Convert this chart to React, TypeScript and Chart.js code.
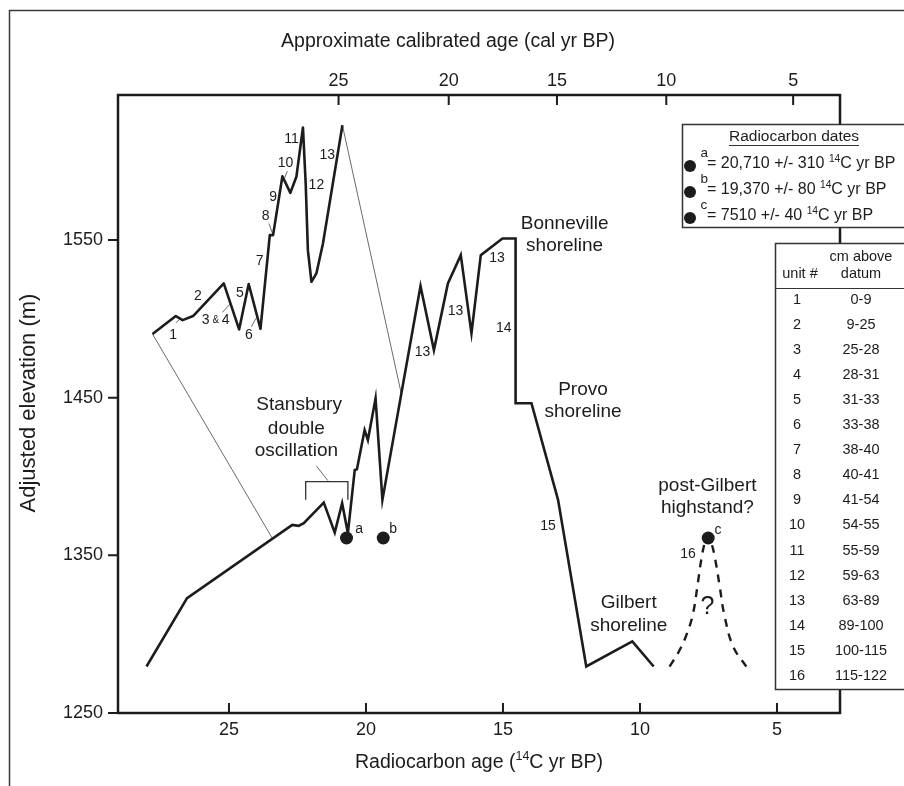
import React, { useEffect, useRef } from "react";
import { Chart, registerables } from "chart.js";

Chart.register(...registerables);

const FONT = '"Liberation Sans", Arial, Helvetica, sans-serif';
const INK = "#1c1c1c";

// ---- axes ----
const xTicks = [25, 20, 15, 10, 5];
const yTicks = [1250, 1350, 1450, 1550];
const calTickLabels = ["25", "20", "15", "10", "5"];
const calTickAt14C = [21.0, 16.98, 13.03, 9.04, 4.41];

// ---- lake-level curve (14C ka BP, m) ----
const mainAge = [28.01, 26.53, 22.69, 22.46, 22.27, 21.54, 21.14, 20.87, 20.66, 20.41, 20.33, 20.05, 19.93, 19.65, 19.4, 18.01, 17.52, 17.01, 16.54, 16.15, 15.81, 15.02, 14.54, 14.54, 13.96, 12.99, 11.96, 10.28, 9.5];
const mainElev = [1279.5, 1322.9, 1369.3, 1368.7, 1370.4, 1383.5, 1364.4, 1383.1, 1364.1, 1404.2, 1404.6, 1429.5, 1423.2, 1449.6, 1385.2, 1520.8, 1480.2, 1522.5, 1540.4, 1490.8, 1540.4, 1551.0, 1551.0, 1446.5, 1446.5, 1385.2, 1279.5, 1295.4, 1279.5];

// ---- expanded inset (units 1-13) ----
const insetAge = [27.79, 26.94, 26.69, 26.31, 25.19, 24.63, 24.28, 23.85, 23.51, 23.39, 23.05, 22.76, 22.54, 22.3, 22.2, 22.12, 21.99, 21.81, 21.57, 20.86];
const insetElev = [1490.4, 1501.8, 1499.2, 1501.8, 1522.5, 1493.3, 1522.1, 1493.7, 1553.1, 1553.1, 1590.5, 1579.9, 1590.1, 1621.4, 1585.9, 1543.6, 1523.5, 1528.8, 1547.8, 1622.8];

// ---- post-Gilbert highstand (dashed) ----
const dashAge = [8.92, 8.58, 8.28, 8.06, 7.88, 7.76, 7.64, 7.52, 7.39, 7.25, 7.09, 6.91, 6.6, 6.12];
const dashElev = [1279.5, 1289.0, 1300.7, 1313.4, 1333.4, 1347.6, 1357.7, 1363.0, 1357.7, 1347.1, 1330.2, 1311.2, 1292.2, 1279.5];

// ---- connector lines inset -> curve ----
const connA = [[27.79, 1490.4], [23.41, 1360.6]];
const connB = [[20.86, 1622.8], [18.71, 1452.5]];

// ---- Stansbury bracket ----
const bracketAge = [22.2, 22.2, 20.66, 20.66];
const bracketElev = [1385.2, 1396.8, 1396.8, 1385.2];
const leaderLines = [
  [[26.93, 1497.5], [26.77, 1500.3]],
  [[25.24, 1504.1], [24.97, 1509.2]],
  [[24.18, 1495.0], [24.02, 1500.3]],
  [[23.54, 1560.5], [23.41, 1554.2]],
  [[22.87, 1593.7], [22.97, 1589.4]],
  [[21.81, 1406.7], [21.39, 1397.4]],
];

// ---- radiocarbon dates ----
const dateLetters = ["a", "b", "c"];
const dateAges = [20.71, 19.37, 7.51];
const dateElev = [1361, 1361, 1361];
const dateValues = ["20,710 +/- 310", "19,370 +/- 80", "7510 +/- 40"];

// ---- unit table ----
const unitNumbers = ["1", "2", "3", "4", "5", "6", "7", "8", "9", "10", "11", "12", "13", "14", "15", "16"];
const unitCm = ["0-9", "9-25", "25-28", "28-31", "31-33", "33-38", "38-40", "40-41", "41-54", "54-55", "55-59", "59-63", "63-89", "89-100", "100-115", "115-122"];

// ---- annotation text anchors (data coordinates) ----
const bigLabels = [
  { t: "Stansbury", x: 22.44, y: 1445.4 },
  { t: "double", x: 22.54, y: 1430.6 },
  { t: "oscillation", x: 22.54, y: 1416.4 },
  { t: "Bonneville", x: 12.75, y: 1560.5 },
  { t: "shoreline", x: 12.75, y: 1546.1 },
  { t: "Provo", x: 12.08, y: 1455.3 },
  { t: "shoreline", x: 12.08, y: 1441.1 },
  { t: "Gilbert", x: 10.41, y: 1319.7 },
  { t: "shoreline", x: 10.41, y: 1305.3 },
  { t: "post-Gilbert", x: 7.54, y: 1394.0 },
  { t: "highstand?", x: 7.54, y: 1379.9 },
];
const unitLabels = [
  { t: "1", x: 27.04, y: 1489.7 },
  { t: "2", x: 26.13, y: 1514.5 },
  { t: "3", x: 25.85, y: 1499.2 },
  { t: "4", x: 25.12, y: 1499.2 },
  { t: "5", x: 24.6, y: 1516.2 },
  { t: "6", x: 24.27, y: 1489.7 },
  { t: "7", x: 23.88, y: 1536.6 },
  { t: "8", x: 23.66, y: 1565.2 },
  { t: "9", x: 23.39, y: 1577.0 },
  { t: "10", x: 22.94, y: 1598.5 },
  { t: "11", x: 22.72, y: 1613.8 },
  { t: "12", x: 21.81, y: 1584.8 },
  { t: "13", x: 21.41, y: 1603.8 },
  { t: "13", x: 17.94, y: 1479.2 },
  { t: "13", x: 16.73, y: 1505.1 },
  { t: "13", x: 15.22, y: 1538.7 },
  { t: "14", x: 14.97, y: 1494.0 },
  { t: "15", x: 13.36, y: 1368.7 },
  { t: "16", x: 8.25, y: 1351.0 },
  { t: "a", x: 20.25, y: 1366.6 },
  { t: "b", x: 19.01, y: 1366.6 },
  { t: "c", x: 7.15, y: 1366.2 },
];
const ampersand = { t: "&", x: 25.48, y: 1499.0 };
const questionMark = { t: "?", x: 7.54, y: 1317.2 };

const zip = (a: number[], b: number[]) => a.map((v, i) => ({ x: v, y: b[i] }));
const pairs = (p: number[][]) => p.map(([x, y]) => ({ x, y }));

function richText(ctx: CanvasRenderingContext2D, parts: [string, boolean][], x: number, y: number, size: number, align: "left" | "center") {
  const sup = size * 0.64;
  const widths = parts.map(([t, s]) => {
    ctx.font = `${s ? sup : size}px ${FONT}`;
    return ctx.measureText(t).width;
  });
  const total = widths.reduce((a, b) => a + b, 0);
  let cx = align === "center" ? x - total / 2 : x;
  ctx.textAlign = "left";
  ctx.textBaseline = "middle";
  parts.forEach(([t, s], i) => {
    ctx.font = `${s ? sup : size}px ${FONT}`;
    ctx.fillText(t, cx, s ? y - size * 0.32 : y);
    cx += widths[i];
  });
}

const decor = {
  id: "decor",
  afterDraw(chart: any) {
    const ctx: CanvasRenderingContext2D = chart.ctx;
    const xs = chart.scales.x;
    const ys = chart.scales.y;
    const X = (v: number) => xs.getPixelForValue(v);
    const Y = (v: number) => ys.getPixelForValue(v);
    const { left, right, top, bottom } = chart.chartArea;
    ctx.save();

    // outer frame
    ctx.strokeStyle = "#3a3a3a";
    ctx.lineWidth = 1.5;
    ctx.beginPath();
    ctx.moveTo(9.5, 790);
    ctx.lineTo(9.5, 10.5);
    ctx.lineTo(910, 10.5);
    ctx.stroke();

    // plot frame
    ctx.strokeStyle = INK;
    ctx.lineWidth = 2.5;
    ctx.lineCap = "square";
    ctx.beginPath();
    ctx.rect(left, top, right - left, bottom - top);
    ctx.stroke();
    ctx.lineCap = "butt";
    ctx.lineWidth = 2;
    ctx.beginPath();
    xTicks.forEach((v) => {
      ctx.moveTo(X(v), bottom);
      ctx.lineTo(X(v), bottom - 10);
    });
    calTickAt14C.forEach((v) => {
      ctx.moveTo(X(v), top);
      ctx.lineTo(X(v), top + 10);
    });
    yTicks.forEach((v) => {
      ctx.moveTo(left - 10, Y(v));
      ctx.lineTo(left, Y(v));
    });
    ctx.stroke();

    // titles
    ctx.fillStyle = INK;
    ctx.textAlign = "center";
    ctx.textBaseline = "middle";
    ctx.font = `19.5px ${FONT}`;
    ctx.fillText("Approximate calibrated age (cal yr BP)", 448, 42);
    richText(ctx, [["Radiocarbon age (", false], ["14", true], ["C yr BP)", false]], (left + right) / 2, 763, 19.5, "center");
    ctx.save();
    ctx.translate(29, 403);
    ctx.rotate(-Math.PI / 2);
    ctx.textAlign = "center";
    ctx.font = `22px ${FONT}`;
    ctx.fillText("Adjusted elevation (m)", 0, 0);
    ctx.restore();

    // annotations
    ctx.textAlign = "center";
    ctx.textBaseline = "middle";
    ctx.font = `19px ${FONT}`;
    bigLabels.forEach((l) => ctx.fillText(l.t, X(l.x), Y(l.y)));
    ctx.font = `14px ${FONT}`;
    unitLabels.forEach((l) => ctx.fillText(l.t, X(l.x), Y(l.y)));
    ctx.font = `10px ${FONT}`;
    ctx.fillText(ampersand.t, X(ampersand.x), Y(ampersand.y));
    ctx.font = `25px ${FONT}`;
    ctx.fillText(questionMark.t, X(questionMark.x), Y(questionMark.y));

    // radiocarbon dates box
    ctx.fillStyle = "#fff";
    ctx.fillRect(682, 124, 240, 103);
    ctx.strokeStyle = "#333";
    ctx.lineWidth = 1.5;
    ctx.strokeRect(682.5, 124.5, 240, 103);
    ctx.fillStyle = INK;
    ctx.font = `15.5px ${FONT}`;
    ctx.textAlign = "center";
    const ttl = "Radiocarbon dates";
    ctx.fillText(ttl, 794, 137);
    const tw = ctx.measureText(ttl).width;
    ctx.lineWidth = 1;
    ctx.beginPath();
    ctx.moveTo(794 - tw / 2, 145.5);
    ctx.lineTo(794 + tw / 2, 145.5);
    ctx.stroke();
    dateLetters.forEach((letter, i) => {
      const ry = 164 + 26 * i;
      ctx.beginPath();
      ctx.arc(690, ry + 2, 6, 0, Math.PI * 2);
      ctx.fill();
      ctx.font = `13.5px ${FONT}`;
      ctx.textAlign = "left";
      ctx.fillText(letter, 700.5, ry - 10.5);
      richText(ctx, [[`= ${dateValues[i]} `, false], ["14", true], ["C yr BP", false]], 707, ry, 16, "left");
    });

    // unit table
    ctx.fillStyle = "#fff";
    ctx.fillRect(775, 243, 140, 446);
    ctx.strokeStyle = "#333";
    ctx.lineWidth = 1.5;
    ctx.strokeRect(775.5, 243.5, 140, 446);
    ctx.lineWidth = 1;
    ctx.beginPath();
    ctx.moveTo(775, 288.5);
    ctx.lineTo(904, 288.5);
    ctx.stroke();
    ctx.fillStyle = INK;
    ctx.font = `14.5px ${FONT}`;
    ctx.textAlign = "center";
    ctx.textBaseline = "middle";
    ctx.fillText("cm above", 861, 257);
    ctx.fillText("datum", 861, 274);
    ctx.fillText("unit #", 800, 274);
    unitNumbers.forEach((u, i) => {
      const ry = 299.5 + i * 25.1;
      ctx.fillText(u, 797, ry);
      ctx.fillText(unitCm[i], 861, ry);
    });
    ctx.restore();
  },
};

export default function App() {
  const ref = useRef<HTMLCanvasElement>(null);
  useEffect(() => {
    document.body.style.margin = "0";
    const thin = { borderColor: "#444", borderWidth: 0.8, pointRadius: 0, fill: false };
    const chart = new Chart(ref.current as HTMLCanvasElement, {
      type: "line",
      data: {
        datasets: [
          {
            data: zip(dateAges, dateElev),
            showLine: false,
            pointRadius: 6.5,
            pointBackgroundColor: INK,
            pointBorderWidth: 0,
          } as any,
          { data: zip(mainAge, mainElev), borderColor: INK, borderWidth: 2.6, pointRadius: 0, tension: 0, borderJoinStyle: "miter" } as any,
          { data: zip(insetAge, insetElev), borderColor: INK, borderWidth: 2.6, pointRadius: 0, tension: 0, borderJoinStyle: "round" } as any,
          { data: zip(dashAge, dashElev), borderColor: INK, borderWidth: 2.4, borderDash: [8, 7], pointRadius: 0, tension: 0.4 } as any,
          { data: pairs(connA), ...thin } as any,
          { data: pairs(connB), ...thin } as any,
          { data: zip(bracketAge, bracketElev), borderColor: "#333", borderWidth: 1.3, pointRadius: 0 } as any,
          ...leaderLines.map((l) => ({ data: pairs(l), ...thin } as any)),
        ],
      },
      options: {
        animation: false,
        responsive: false,
        events: [],
        layout: { padding: { left: 0, top: 0, right: 64, bottom: 0 } },
        plugins: { legend: { display: false }, tooltip: { enabled: false } },
        scales: {
          x: {
            type: "linear",
            position: "bottom",
            reverse: true,
            min: 2.7,
            max: 29.05,
            grid: { display: false, drawTicks: false },
            border: { display: false },
            ticks: { font: { family: FONT, size: 18 }, color: INK, padding: 6, maxRotation: 0, autoSkip: false, callback: (v: any) => String(v) },
            afterBuildTicks: (s: any) => {
              s.ticks = xTicks.map((v) => ({ value: v }));
            },
            afterFit: (s: any) => {
              s.height = 73;
            },
          },
          xTop: {
            type: "linear",
            position: "top",
            reverse: true,
            min: 2.7,
            max: 29.05,
            grid: { display: false, drawTicks: false },
            border: { display: false },
            ticks: { font: { family: FONT, size: 18 }, color: INK, padding: 3, maxRotation: 0, autoSkip: false, callback: (_v: any, i: number) => calTickLabels[i] },
            afterBuildTicks: (s: any) => {
              s.ticks = calTickAt14C.map((v) => ({ value: v }));
            },
            afterFit: (s: any) => {
              s.height = 95;
            },
          },
          y: {
            type: "linear",
            min: 1250,
            max: 1642,
            grid: { display: false, drawTicks: false },
            border: { display: false },
            ticks: { font: { family: FONT, size: 18 }, color: INK, padding: 15, autoSkip: false, callback: (v: any) => String(v) },
            afterBuildTicks: (s: any) => {
              s.ticks = yTicks.map((v) => ({ value: v }));
            },
            afterFit: (s: any) => {
              s.width = 118;
            },
          },
        },
      } as any,
      plugins: [decor],
    });
    return () => chart.destroy();
  }, []);
  return (
    <div style={{ width: 904, height: 786 }}>
      <canvas ref={ref} width={904} height={786} style={{ display: "block" }} />
    </div>
  );
}
